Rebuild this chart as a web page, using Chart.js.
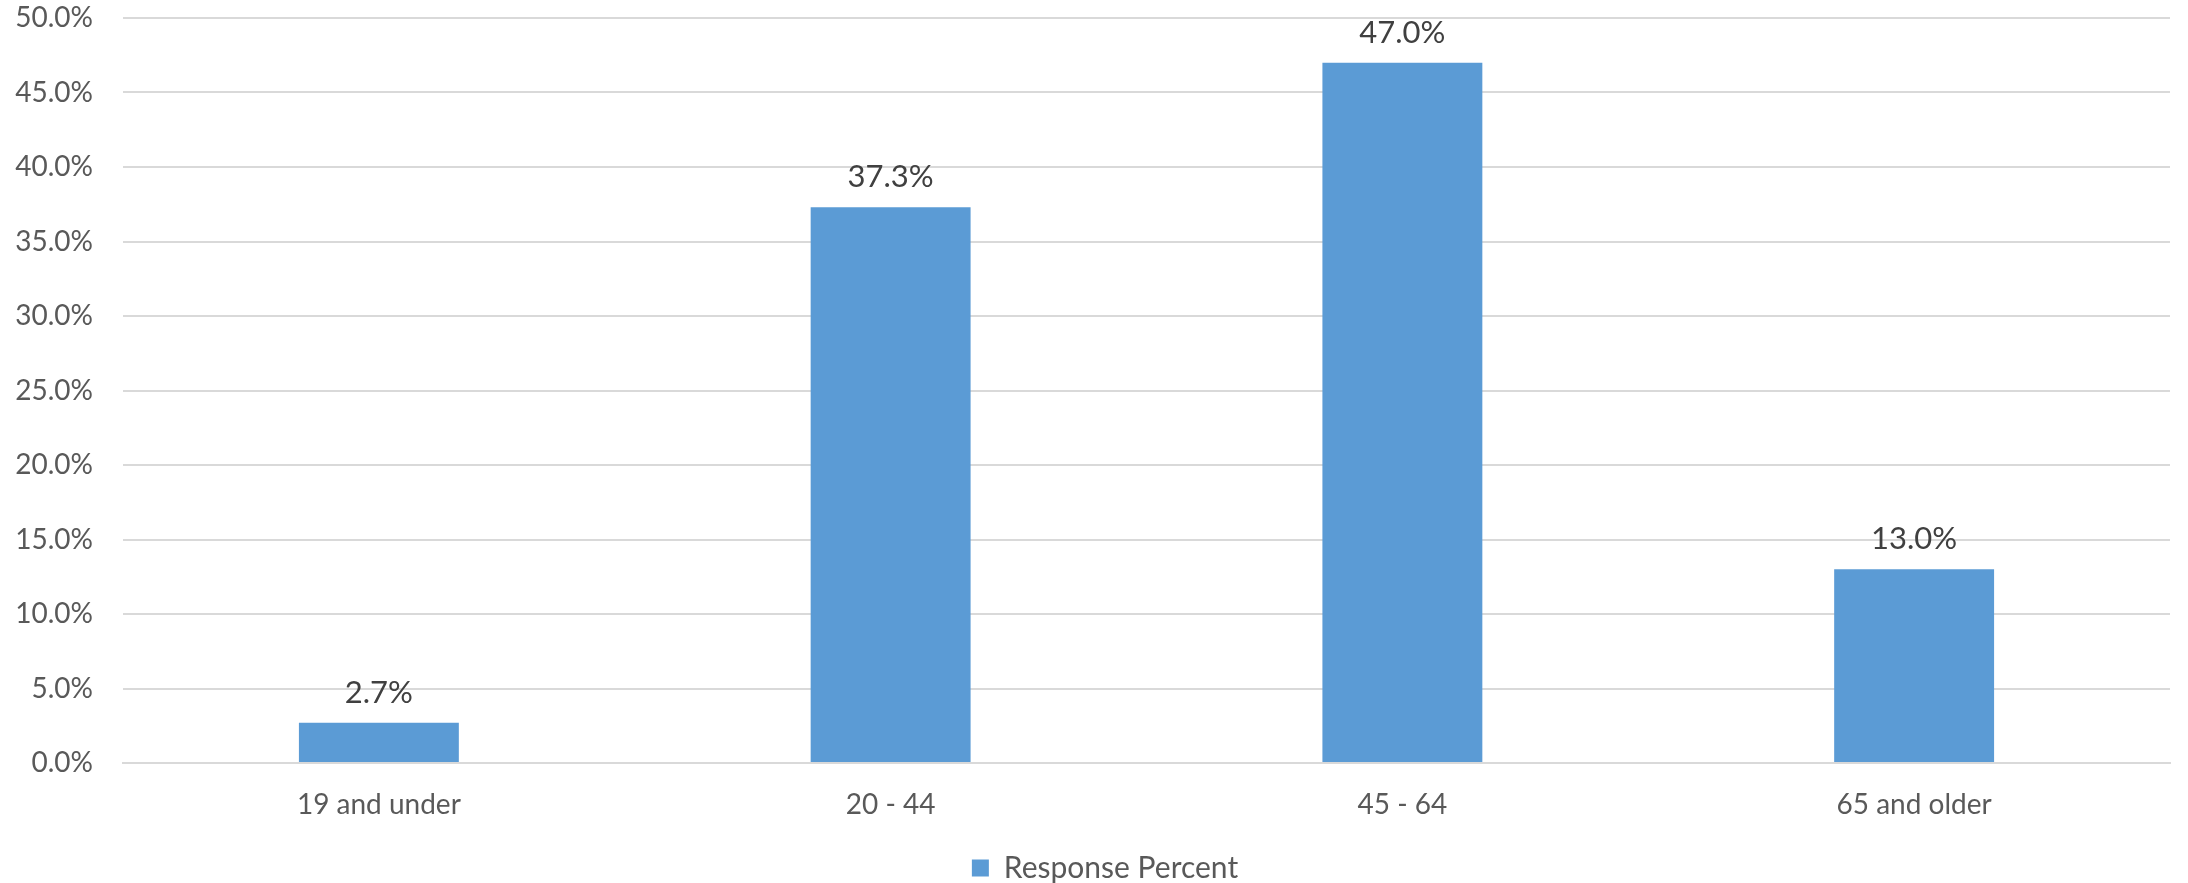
<!DOCTYPE html>
<html>
<head>
<meta charset="utf-8">
<script src="https://cdn.jsdelivr.net/npm/chart.js@4/dist/chart.umd.min.js"></script>
<style>
  html, body { margin: 0; padding: 0; background: #fff; }
  #wrap { width: 2188px; height: 883px; }
</style>
</head>
<body>
<div id="wrap"><canvas id="ageChart"></canvas></div>
<script>
// --- data ---
const categories = ["19 and under", "20 - 44", "45 - 64", "65 and older"];
const responsePercent = [2.7, 37.3, 47.0, 13.0];
const seriesName = "Response Percent";
const yMin = 0;
const yMax = 50;
const yStep = 5;

const barColor = "#5B9BD5";
const textColor = "#595959";
const fontFamily = "Lato, 'Open Sans', sans-serif";

// value labels above each bar
const barValueLabels = {
  id: "barValueLabels",
  afterLayout(chart) {
    // let the y tick labels use the left padding too (no clipping)
    chart.scales.y.left = 0;
  },
  afterDatasetsDraw(chart) {
    const ctx = chart.ctx;
    const meta = chart.getDatasetMeta(0);
    ctx.save();
    ctx.font = "31px " + fontFamily;
    ctx.fillStyle = "#404040";
    ctx.textAlign = "center";
    ctx.textBaseline = "alphabetic";
    meta.data.forEach((bar, i) => {
      const v = chart.data.datasets[0].data[i];
      ctx.fillText(v.toFixed(1) + "%", bar.x, bar.y - 20);
    });
    ctx.restore();
  }
};

new Chart(document.getElementById("ageChart"), {
  type: "bar",
  data: {
    labels: categories,
    datasets: [{
      label: seriesName,
      data: responsePercent,
      backgroundColor: barColor,
      borderWidth: 0,
      barPercentage: 0.3125,
      categoryPercentage: 1.0
    }]
  },
  options: {
    responsive: true,
    maintainAspectRatio: false,
    animation: false,
    layout: { padding: { top: 0, right: 18, bottom: -10, left: 40 } },
    plugins: {
      tooltip: { enabled: false },
      legend: {
        position: "bottom",
        labels: {
          color: textColor,
          font: { family: fontFamily, size: 30 },
          boxWidth: 17,
          boxHeight: 17,
          padding: 0
        }
      }
    },
    scales: {
      x: {
        grid: { display: false, drawTicks: false },
        border: { display: true, color: "#D9D9D9", width: 2 },
        ticks: {
          color: textColor,
          font: { family: fontFamily, size: 28 },
          padding: 25,
          maxRotation: 0
        },
        afterFit(scale) { scale.height = 90; }
      },
      y: {
        min: yMin,
        max: yMax,
        grid: { color: "#D9D9D9", lineWidth: 2, drawTicks: false },
        border: { display: false },
        ticks: {
          stepSize: yStep,
          color: textColor,
          font: { family: fontFamily, size: 28 },
          padding: 30,
          callback: v => v.toFixed(1) + "%"
        },
        afterFit(scale) {
          scale.width = 83;
          scale.paddingTop = 18;
          scale.paddingBottom = 0;
        }
      }
    }
  },
  plugins: [barValueLabels]
});
</script>
</body>
</html>
